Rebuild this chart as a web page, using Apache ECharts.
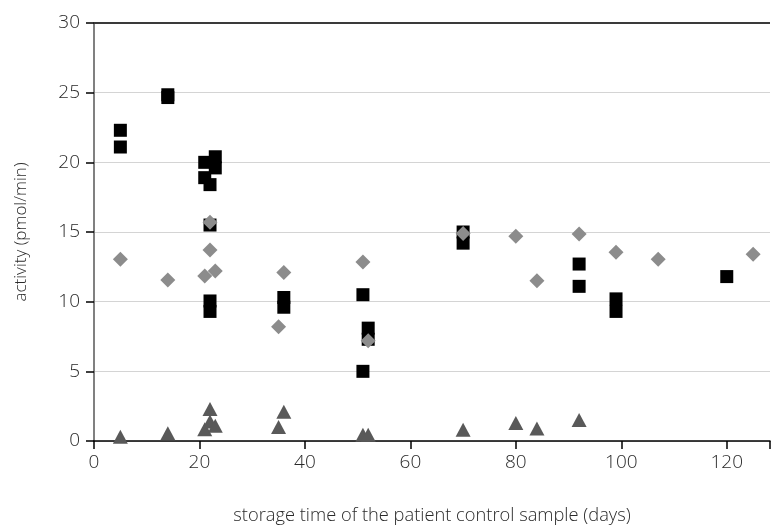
<!DOCTYPE html>
<html>
<head>
<meta charset="utf-8">
<script src="https://cdn.jsdelivr.net/npm/echarts@6/dist/echarts.min.js"></script>
<style>
html,body{margin:0;padding:0;background:#fff;}
#chart{width:771px;height:525px;}
</style>
</head>
<body>
<div id="chart"></div>
<script>
// Data: [storage time (days), activity (pmol/min)]
const squareSeries = [
  [5,22.3],[5,21.1],[14,24.85],[14,24.65],[21,20.0],[23,20.4],[23,19.6],[21,18.9],
  [22,18.4],[22,15.5],[22,10.05],[22,9.3],[36,10.3],[36,9.6],[51,10.5],[52,8.1],
  [52,7.3],[51,5.0],[70,15.0],[70,14.2],[92,12.7],[92,11.1],[99,10.2],[99,9.3],[120,11.8]
];
const diamondSeries = [
  [5,13.05],[14,11.55],[22,15.7],[22,13.7],[21,11.85],[23,12.2],[36,12.1],[35,8.2],
  [51,12.85],[52,7.2],[70,14.9],[80,14.7],[84,11.5],[92,14.85],[99,13.55],[107,13.05],[125,13.4]
];
const triangleSeries = [
  [5,0.3],[14,0.55],[21,0.85],[22,2.3],[22,1.4],[23,1.1],[36,2.1],[35,1.0],
  [51,0.45],[52,0.45],[70,0.8],[80,1.3],[84,0.9],[92,1.5]
];
const xTicks = [0,20,40,60,80,100,120];
const yTicks = [0,5,10,15,20,25,30];
const xTitle = 'storage time of the patient control sample (days)';
const yTitle = 'activity (pmol/min)';

const FONT = "'Open Sans', 'Noto Sans', sans-serif";
const TXT = '#2a2a2a';
const chart = echarts.init(document.getElementById('chart'), null, {renderer:'canvas'});
chart.setOption({
  animation:false,
  backgroundColor:'#ffffff',
  grid:{left:94, right:1, top:23, bottom:84, containLabel:false, outerBoundsMode:'none'},
  xAxis:{
    type:'value', min:0, max:128.2, interval:20,
    name:xTitle, nameLocation:'middle', nameGap:66,
    nameTextStyle:{fontFamily:FONT, fontWeight:300, fontSize:18.3, color:TXT},
    axisLine:{show:true, onZero:false, lineStyle:{color:'#000', width:1.5}},
    axisTick:{show:true, length:8, lineStyle:{color:'#000', width:1.5}},
    axisLabel:{fontFamily:FONT, fontWeight:300, fontSize:19, color:TXT, margin:12,
      formatter:function(v){return xTicks.indexOf(v)>=0 ? String(v) : '';}},
    splitLine:{show:false}
  },
  yAxis:{
    type:'value', min:0, max:30, interval:5,
    name:yTitle, nameLocation:'middle', nameGap:64, nameRotate:90,
    nameTextStyle:{fontFamily:FONT, fontWeight:300, fontSize:17, color:TXT},
    axisLine:{show:true, lineStyle:{color:'#808080', width:2}},
    axisTick:{show:true, length:8, lineStyle:{color:'#000', width:1.5}},
    axisLabel:{fontFamily:FONT, fontWeight:300, fontSize:19, color:TXT, margin:14,
      formatter:function(v){return yTicks.indexOf(v)>=0 ? String(v) : '';}},
    splitLine:{show:true, lineStyle:{color:'#d4d4d4', width:1.2}}
  },
  series:[
    {
      type:'scatter', data:squareSeries, symbol:'rect', symbolSize:[13,13],
      itemStyle:{color:'#000000', opacity:1},
      markLine:{silent:true, symbol:'none', label:{show:false},
        lineStyle:{color:'#3a3a3a', width:2, type:'solid'},
        data:[{yAxis:30}]}
    },
    {
      type:'scatter', data:diamondSeries, symbol:'diamond', symbolSize:[15,15],
      itemStyle:{color:'#8c8c8c', opacity:1}
    },
    {
      type:'scatter', data:triangleSeries, symbol:'triangle', symbolSize:[15,14],
      itemStyle:{color:'#595959', opacity:1}
    }
  ]
});
</script>
</body>
</html>
